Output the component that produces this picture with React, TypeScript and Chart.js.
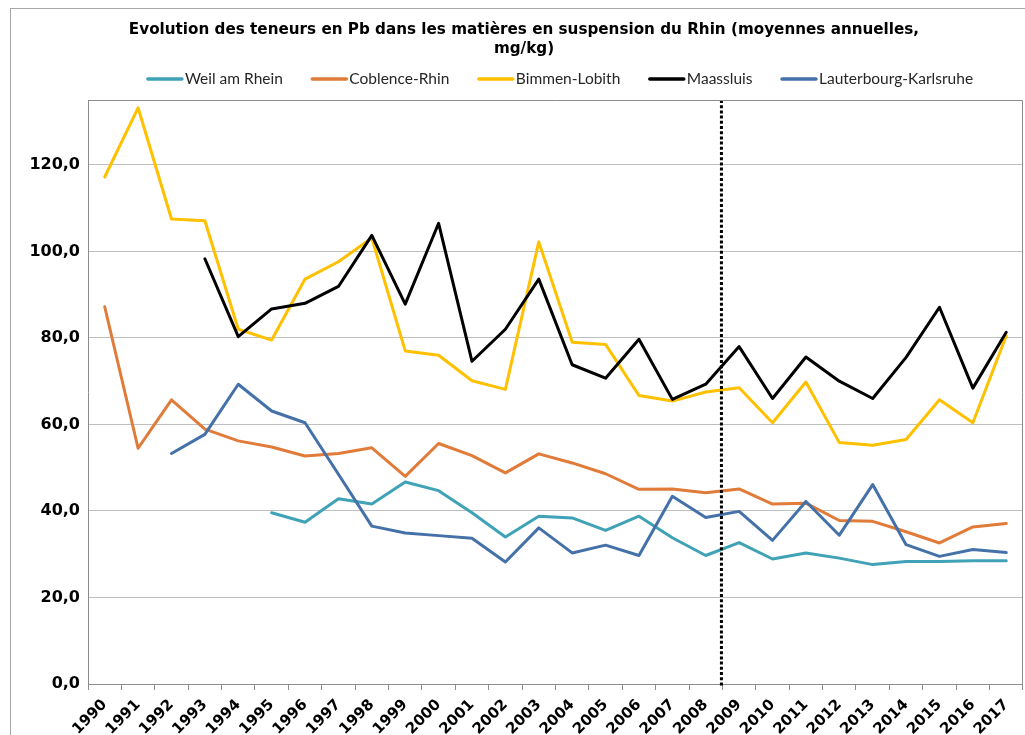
import React, { useEffect, useRef } from "react";
import { Chart, registerables } from "chart.js";

Chart.register(...registerables);

const years = [
  "1990", "1991", "1992", "1993", "1994", "1995", "1996", "1997", "1998", "1999",
  "2000", "2001", "2002", "2003", "2004", "2005", "2006", "2007", "2008", "2009",
  "2010", "2011", "2012", "2013", "2014", "2015", "2016", "2017",
];

const weilAmRhein = [
  null, null, null, null, null, 39.6, 37.4, 42.8, 41.6, 46.7,
  44.7, 39.6, 34.0, 38.8, 38.4, 35.5, 38.8, 33.8, 29.7, 32.7,
  28.9, 30.3, 29.1, 27.6, 28.3, 28.3, 28.5, 28.5,
];

const coblenceRhin = [
  87.2, 54.5, 65.7, 58.9, 56.2, 54.8, 52.7, 53.3, 54.6, 48.0,
  55.6, 52.8, 48.8, 53.2, 51.1, 48.6, 45.0, 45.1, 44.2, 45.1,
  41.6, 41.8, 37.8, 37.6, 35.2, 32.6, 36.3, 37.1,
];

const bimmenLobith = [
  117.2, 133.2, 107.5, 107.1, 82.0, 79.5, 93.6, 97.6, 103.1, 77.0,
  76.0, 70.1, 68.1, 102.2, 79.0, 78.5, 66.7, 65.4, 67.5, 68.5,
  60.4, 69.8, 55.8, 55.2, 56.5, 65.7, 60.4, 80.5,
];

const maassluis = [
  null, null, null, 98.3, 80.3, 86.7, 88.0, 91.9, 103.7, 87.8,
  106.5, 74.6, 82.0, 93.6, 73.8, 70.7, 79.7, 65.8, 69.3, 78.0,
  66.0, 75.6, 70.0, 66.0, 75.5, 87.1, 68.4, 81.3,
];

const lauterbourgKarlsruhe = [
  null, null, 53.3, 57.7, 69.3, 63.1, 60.4, 48.5, 36.5, 34.9,
  34.3, 33.7, 28.2, 36.1, 30.3, 32.1, 29.7, 43.4, 38.5, 39.9,
  33.2, 42.2, 34.4, 46.1, 32.2, 29.5, 31.1, 30.4,
];

const seriesNames = ["Weil am Rhein", "Coblence-Rhin", "Bimmen-Lobith", "Maassluis", "Lauterbourg-Karlsruhe"];
const seriesColors = ["#3fa2b6", "#e07b39", "#ffc000", "#000000", "#4571a9"];
const seriesData = [weilAmRhein, coblenceRhin, bimmenLobith, maassluis, lauterbourgKarlsruhe];

const titleLines = [
  "Evolution des teneurs en Pb dans les matières en suspension du Rhin (moyennes annuelles,",
  "mg/kg)",
];

// vertical dotted marker between these two categories
const markerBetween = ["2008", "2009"];

const Y_MIN = 0;
const Y_MAX = 135;
const Y_STEP = 20;

const decorPlugin = {
  id: "decor",
  beforeDraw(chart: any) {
    const ctx = chart.ctx;
    ctx.save();
    ctx.fillStyle = "#ffffff";
    ctx.fillRect(0, 0, chart.width, chart.height);
    ctx.strokeStyle = "#a6a6a6";
    ctx.lineWidth = 1;
    ctx.strokeRect(10.5, 8.5, chart.width + 50, chart.height + 50);
    ctx.restore();
  },
  afterDatasetsDraw(chart: any) {
    const ctx = chart.ctx;
    const x = chart.scales.x;
    const a = chart.chartArea;
    const i0 = years.indexOf(markerBetween[0]);
    const i1 = years.indexOf(markerBetween[1]);
    const px = (x.getPixelForValue(i0) + x.getPixelForValue(i1)) / 2 - 1;
    ctx.save();
    ctx.strokeStyle = "#000000";
    ctx.lineWidth = 3;
    ctx.setLineDash([3, 2.2]);
    ctx.beginPath();
    ctx.moveTo(px, a.top);
    ctx.lineTo(px, a.bottom + 2);
    ctx.stroke();
    ctx.restore();
  },
  afterDraw(chart: any) {
    const ctx = chart.ctx;
    const a = chart.chartArea;
    ctx.save();
    // plot area frame (top and right)
    ctx.strokeStyle = "#8c8c8c";
    ctx.lineWidth = 1;
    ctx.beginPath();
    ctx.moveTo(Math.round(a.left) + 0.5, Math.round(a.top) + 0.5);
    ctx.lineTo(Math.round(a.right) - 0.5, Math.round(a.top) + 0.5);
    ctx.lineTo(Math.round(a.right) - 0.5, Math.round(a.bottom) + 0.5);
    ctx.stroke();

    // title
    ctx.fillStyle = "#000000";
    ctx.font = 'bold 15.2px "DejaVu Sans"';
    ctx.textAlign = "center";
    ctx.textBaseline = "middle";
    ctx.fillText(titleLines[0], 524, 30);
    ctx.fillText(titleLines[1], 524, 49);

    // legend
    ctx.font = '15.5px "Lato"';
    ctx.textAlign = "left";
    const lineLen = 36;
    const gapAfterLine = 2;
    const itemGap = 28.5;
    const widths = seriesNames.map((n) => ctx.measureText(n).width);
    const total =
      widths.reduce((s, w) => s + lineLen + gapAfterLine + w, 0) + itemGap * (seriesNames.length - 1);
    let cx = 560 - total / 2;
    const ly = 79;
    seriesNames.forEach((n, i) => {
      ctx.strokeStyle = seriesColors[i];
      ctx.lineWidth = 3.5;
      ctx.lineCap = "round";
      ctx.beginPath();
      ctx.moveTo(cx + 1, ly);
      ctx.lineTo(cx + lineLen - 1, ly);
      ctx.stroke();
      ctx.fillStyle = "#262626";
      ctx.fillText(n, cx + lineLen + gapAfterLine, ly);
      cx += lineLen + gapAfterLine + widths[i] + itemGap;
    });
    ctx.restore();
  },
};

export default function App() {
  const ref = useRef<HTMLCanvasElement | null>(null);

  useEffect(() => {
    if (!ref.current) return;
    const chart = new Chart(ref.current, {
      type: "line",
      data: {
        labels: years,
        datasets: seriesData.map((d, i) => ({
          label: seriesNames[i],
          data: d,
          borderColor: seriesColors[i],
          backgroundColor: seriesColors[i],
          borderWidth: 3,
          pointRadius: 0,
          tension: 0,
          spanGaps: false,
          borderJoinStyle: "round" as const,
          borderCapStyle: "round" as const,
          order: seriesNames.length - i,
        })),
      },
      options: {
        responsive: false,
        animation: false,
        devicePixelRatio: 1,
        layout: { padding: { left: 0, right: 1, top: 100, bottom: 0 } },
        plugins: {
          legend: { display: false },
          title: { display: false },
          tooltip: { enabled: false },
        },
        scales: {
          x: {
            type: "category",
            offset: true,
            grid: {
              display: true,
              offset: true,
              drawOnChartArea: false,
              drawTicks: true,
              tickLength: 6,
              color: "#8c8c8c",
            },
            border: { display: true, color: "#8c8c8c", width: 1 },
            ticks: {
              autoSkip: false,
              maxRotation: 45,
              minRotation: 45,
              padding: 6,
              color: "#000000",
              font: { family: "DejaVu Sans", size: 15, weight: "bold" },
            },
            afterFit(scale: any) {
              scale.height = 51;
            },
          },
          y: {
            type: "linear",
            min: Y_MIN,
            max: Y_MAX,
            grid: {
              color: "#bfbfbf",
              drawTicks: false,
              lineWidth: 1,
            },
            border: { display: true, color: "#8c8c8c", width: 1 },
            ticks: {
              stepSize: Y_STEP,
              padding: 8,
              color: "#000000",
              font: { family: "DejaVu Sans", size: 16, weight: "bold" },
              callback: (v: any) => Number(v).toFixed(1).replace(".", ","),
            },
            afterBuildTicks(scale: any) {
              scale.ticks = scale.ticks.filter((t: any) => t.value % Y_STEP === 0);
            },
            afterFit(scale: any) {
              scale.width = 88;
            },
          },
        },
      },
      plugins: [decorPlugin],
    });
    return () => chart.destroy();
  }, []);

  return (
    <div style={{ position: "absolute", left: 0, top: 0, width: 1025, height: 735, overflow: "hidden", background: "#fff" }}>
      <canvas ref={ref} width={1025} height={735} style={{ display: "block" }} />
    </div>
  );
}
